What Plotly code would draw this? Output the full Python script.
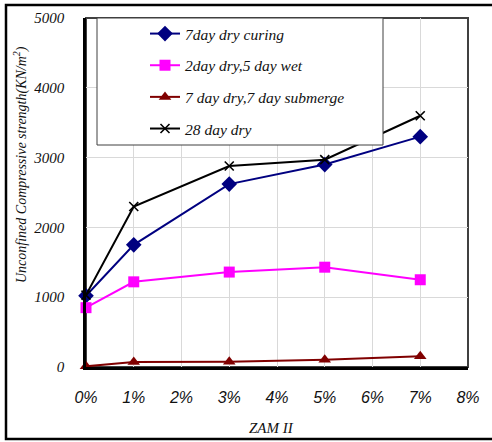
import plotly.graph_objects as go

x_pct = [0, 1, 3, 5, 7]
x_ticks = [0, 1, 2, 3, 4, 5, 6, 7, 8]
x_ticktext = ["0%", "1%", "2%", "3%", "4%", "5%", "6%", "7%", "8%"]
y_ticks = [0, 1000, 2000, 3000, 4000, 5000]

names = ["7day dry curing", "2day dry,5 day wet", "7 day dry,7 day submerge", "28 day dry"]
dry7 = [1020, 1750, 2620, 2900, 3300]
wet = [850, 1220, 1360, 1430, 1250]
submerge = [10, 70, 75, 105, 155]
dry28 = [1030, 2300, 2880, 2970, 3600]

x_title = "ZAM II"
y_title = "Unconfined Compressive strength(KN/m<sup>2</sup>)"

W, H = 492, 442
L, R, T, B = 86, 468, 18, 367

def px_x(p):
    return (p - L) / (R - L)

def px_y(p):
    return (B - p) / (B - T)

fig = go.Figure()
styles = [
    dict(color="#000080", symbol="diamond", size=12, lw=None),
    dict(color="#FF00FF", symbol="square", size=11, lw=None),
    dict(color="#800000", symbol="triangle-up", size=11, lw=None),
    dict(color="#000000", symbol="x-thin", size=9, lw=1.6),
]
series = [dry7, wet, submerge, dry28]
for i, (nm, ys, st) in enumerate(zip(names, series, styles)):
    marker = dict(color=st["color"], symbol=st["symbol"], size=st["size"])
    if st["lw"]:
        marker["line"] = dict(color=st["color"], width=st["lw"])
    fig.add_trace(go.Scatter(
        x=x_pct, y=ys, name=nm, mode="lines+markers",
        line=dict(color=st["color"], width=2), marker=marker,
        cliponaxis=False, legendgroup=f"g{i}",
    ))

serif = "Liberation Serif"
fig.update_layout(
    width=W, height=H,
    margin=dict(l=L, r=W - R, t=T, b=H - B),
    paper_bgcolor="white", plot_bgcolor="white",
    showlegend=True,
    legend=dict(x=px_x(145), y=px_y(17), xanchor="left", yanchor="top",
                bgcolor="rgba(0,0,0,0)", borderwidth=0,
                font=dict(family=serif, size=15.5, color="#111", style="italic"),
                tracegroupgap=8.5, traceorder="grouped"),
    xaxis=dict(range=[0, 8], tickvals=x_ticks, ticktext=x_ticktext,
               showgrid=True, gridcolor="#d9d9d9", gridwidth=1,
               showline=True, linecolor="black", linewidth=3,
               ticks="", ticklabelstandoff=14, zeroline=False, automargin=False,
               tickfont=dict(family="Liberation Sans", size=16, color="#111", style="italic")),
    yaxis=dict(range=[0, 5000], tickvals=y_ticks,
               showgrid=True, gridcolor="#d9d9d9", gridwidth=1,
               showline=True, linecolor="black", linewidth=2.5,
               ticks="", ticklabelstandoff=16, zeroline=False, automargin=False,
               tickfont=dict(family=serif, size=15, color="#111", style="italic")),
    annotations=[
        dict(text=x_title, xref="paper", yref="paper", x=px_x(271), y=px_y(428),
             xanchor="center", yanchor="middle", showarrow=False,
             font=dict(family=serif, size=15, color="#111", style="italic")),
        dict(text=y_title, xref="paper", yref="paper", x=px_x(20), y=px_y(165),
             xanchor="center", yanchor="middle", showarrow=False, textangle=-90,
             font=dict(family=serif, size=14, color="#111", style="italic")),
    ],
    shapes=[
        dict(type="rect", xref="paper", yref="paper", x0=0, x1=1, y0=0, y1=1,
             line=dict(color="#404040", width=2), layer="below"),
        dict(type="rect", xref="paper", yref="paper",
             x0=px_x(97), x1=px_x(383), y0=px_y(145), y1=px_y(18),
             line=dict(color="#404040", width=1), fillcolor="white", layer="above"),
        dict(type="rect", xref="paper", yref="paper",
             x0=px_x(6), x1=px_x(500), y0=px_y(439), y1=px_y(5),
             line=dict(color="black", width=2.5), layer="above"),
    ],
)

fig.write_html("out.html", config={"displayModeBar": False},
               post_script="document.body.style.margin='0px';document.body.style.padding='0px';")
